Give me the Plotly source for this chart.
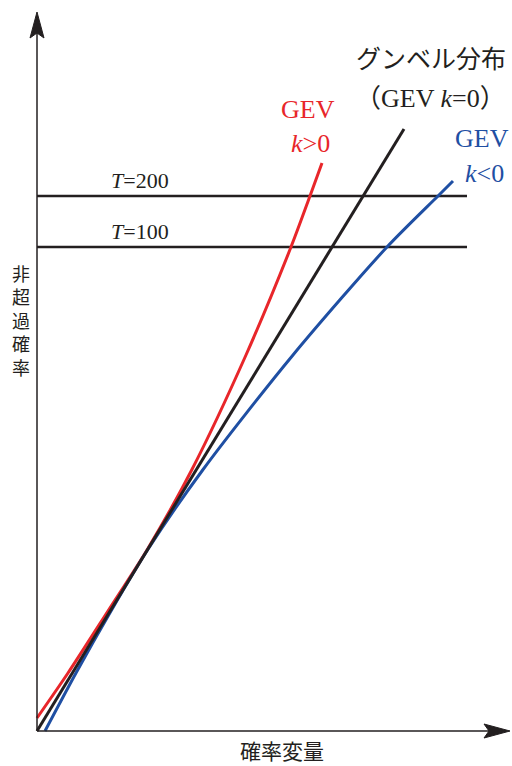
import plotly.graph_objects as go

# Data (x: 確率変量, y: reduced variate / 非超過確率 scale), chart units
gumbel_x = [0, 367]
gumbel_y = [0, 602]

red_x = [0, 31, 71, 110, 154.7, 209, 254, 273, 285]
red_y = [13, 58, 120, 181, 261, 376, 484, 535, 568]

blue_x = [8, 39, 74, 110.5, 165.7, 256, 350, 401, 416]
blue_y = [0, 58, 120, 181, 261, 376, 484, 535, 550]

T_levels = [200, 100]
T_y = [535, 484]
T_x_end = 430

RED = "#e8262a"
BLACK = "#231f20"
BLUE = "#1f4fa3"
SERIF = "Liberation Serif, Noto Sans CJK JP"
CJK = "Noto Sans CJK JP"

fig = go.Figure()

for lvl, yv in zip(T_levels, T_y):
    fig.add_trace(go.Scatter(x=[0, T_x_end], y=[yv, yv], mode="lines",
                             line=dict(color=BLACK, width=2.5), hoverinfo="skip"))
    fig.add_annotation(x=103, y=yv + 16, xref="x", yref="y", text=f"<i>T</i>={lvl}",
                       showarrow=False, font=dict(family=SERIF, size=22, color=BLACK))

fig.add_trace(go.Scatter(x=red_x, y=red_y, mode="lines",
                         line=dict(color=RED, width=3, shape="spline", smoothing=0.8),
                         hoverinfo="skip"))
fig.add_trace(go.Scatter(x=blue_x, y=blue_y, mode="lines",
                         line=dict(color=BLUE, width=3, shape="spline", smoothing=0.8),
                         hoverinfo="skip"))
fig.add_trace(go.Scatter(x=gumbel_x, y=gumbel_y, mode="lines",
                         line=dict(color=BLACK, width=3), hoverinfo="skip"))

# axes with arrows
ax_color = BLACK
fig.add_shape(type="line", x0=0, y0=0, x1=0, y1=700, xref="x", yref="y",
              line=dict(color=ax_color, width=1.5))
fig.add_shape(type="line", x0=0, y0=0, x1=455, y1=0, xref="x", yref="y",
              line=dict(color=ax_color, width=1.5))
fig.add_shape(type="path", xref="x", yref="y",
              path="M 0 719 L -7 693 L 0 698 L 7 693 Z",
              fillcolor=ax_color, line=dict(color=ax_color, width=1))
fig.add_shape(type="path", xref="x", yref="y",
              path="M 473 0 L 447 7 L 452 0 L 447 -7 Z",
              fillcolor=ax_color, line=dict(color=ax_color, width=1))

# labels
fig.add_annotation(x=394, y=674, xref="x", yref="y", text="グンベル分布",
                   showarrow=False, font=dict(family=CJK, size=25, color=BLACK))
fig.add_annotation(x=393, y=633, xref="x", yref="y", text="（GEV <i>k</i>=0）",
                   showarrow=False, font=dict(family=SERIF, size=26, color=BLACK))
fig.add_annotation(x=271, y=622, xref="x", yref="y", text="GEV",
                   showarrow=False, font=dict(family=SERIF, size=26, color=RED))
fig.add_annotation(x=273, y=588, xref="x", yref="y", text="<i>k</i>&gt;0",
                   showarrow=False, font=dict(family=SERIF, size=26, color=RED))
fig.add_annotation(x=445, y=593, xref="x", yref="y", text="GEV",
                   showarrow=False, font=dict(family=SERIF, size=26, color=BLUE))
fig.add_annotation(x=447, y=558, xref="x", yref="y", text="<i>k</i>&lt;0",
                   showarrow=False, font=dict(family=SERIF, size=26, color=BLUE))

fig.add_annotation(x=245, y=-19, xref="x", yref="y", text="確率変量",
                   showarrow=False, font=dict(family=CJK, size=21, color=BLACK))
ylab = "非超過確率"
fig.add_annotation(x=-16, y=411, xref="x", yref="y", text="<br>".join(ylab),
                   showarrow=False, font=dict(family=CJK, size=18, color=BLACK))

fig.update_layout(
    width=512, height=766, margin=dict(l=0, r=0, t=0, b=0),
    paper_bgcolor="white", plot_bgcolor="white", showlegend=False,
    xaxis=dict(range=[-37, 475], visible=False, fixedrange=True),
    yaxis=dict(range=[-35, 731], visible=False, fixedrange=True),
)
fig.write_html("out.html", config={"displayModeBar": False},
               post_script="document.body.style.margin='0';document.body.style.overflow='hidden';")
